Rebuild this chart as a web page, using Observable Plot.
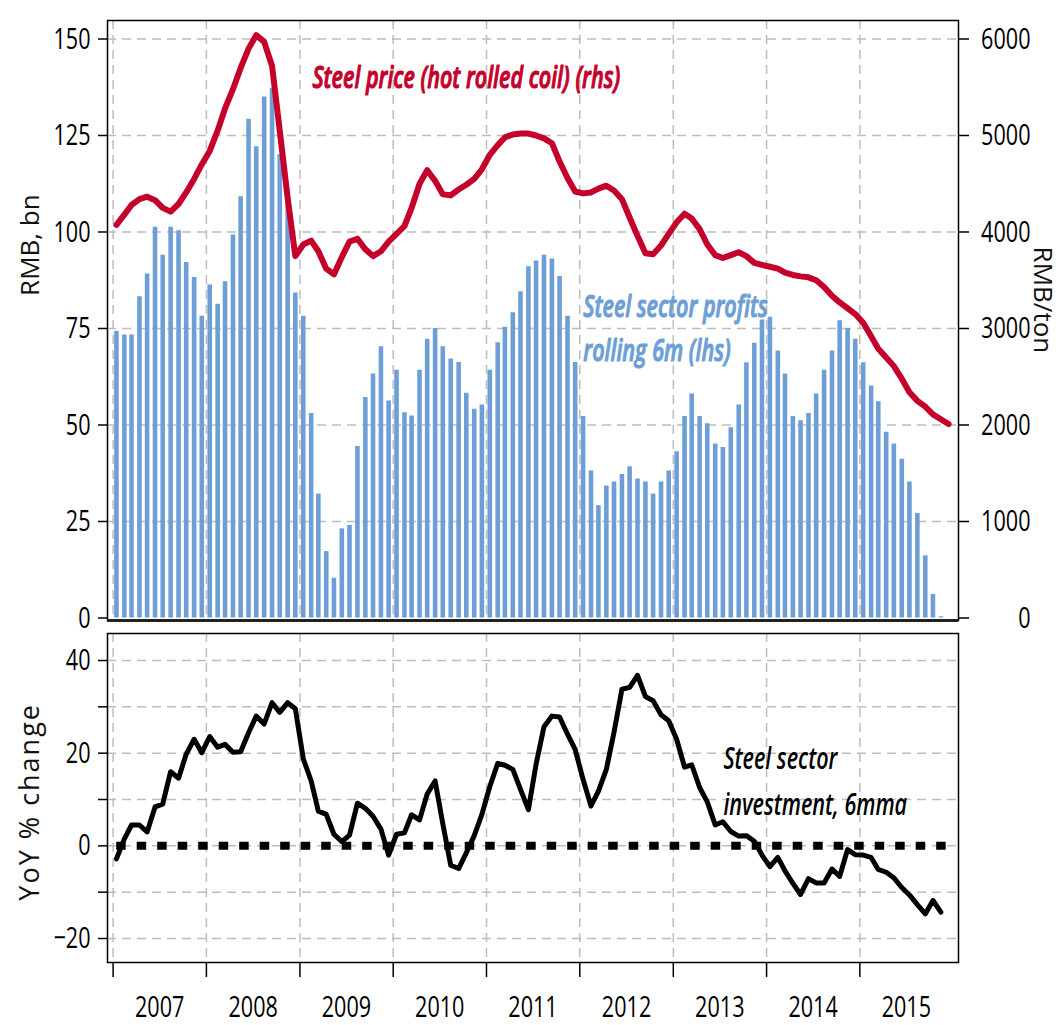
<!DOCTYPE html>
<html>
<head>
<meta charset="utf-8">
<script src="https://cdn.jsdelivr.net/npm/d3@7"></script>
<script src="https://cdn.jsdelivr.net/npm/@observablehq/plot@0.6"></script>
<style>
  html, body { margin: 0; padding: 0; background: #fff; overflow: hidden; }
  #chart svg { display: block; overflow: visible; }
</style>
</head>
<body>
<div id="chart"></div>
<script>
// ---------------- DATA (monthly, starting Jan 2007) ----------------
const years = [2007, 2008, 2009, 2010, 2011, 2012, 2013, 2014, 2015];
const yearLabels = ["2007", "2008", "2009", "2010", "2011", "2012", "2013", "2014", "2015"];

// Steel sector profits, rolling 6m, RMB bn (lhs) — Jan 2007 .. Nov 2015
const profits = [
  74.2, 73.3, 73.3, 83.2, 89.1, 101.2, 94.0, 101.2, 100.3, 92.1, 88.2, 78.2,
  86.3, 81.3, 87.1, 99.2, 109.1, 129.2, 122.1, 135.0, 137.2, 120.0, 110.0, 84.2,
  78.2, 53.0, 32.1, 17.2, 10.3, 23.1, 24.0, 44.4, 57.1, 63.2, 70.3, 56.2,
  64.2, 53.2, 52.3, 64.2, 72.2, 75.0, 70.3, 67.1, 66.2, 58.2, 54.1, 55.2,
  64.2, 71.3, 75.3, 79.1, 84.5, 91.0, 92.5, 94.0, 93.0, 88.5, 78.2, 66.2,
  52.2, 38.1, 29.1, 34.2, 35.2, 37.2, 39.2, 36.0, 35.2, 32.1, 35.2, 38.1,
  43.1, 52.2, 58.0, 52.2, 50.3, 45.1, 44.2, 49.3, 55.2, 66.1, 71.2, 77.2,
  77.9, 69.2, 63.2, 52.2, 51.1, 53.0, 58.0, 64.2, 69.2, 77.0, 75.0, 72.2,
  66.1, 60.1, 56.0, 48.1, 45.1, 41.1, 35.2, 27.1, 16.1, 6.1, 0.3
];

// Steel price, hot rolled coil, RMB/ton (rhs) — Jan 2007 .. Dec 2015
const steelPrice = [
  4073, 4180, 4280, 4340, 4366, 4330, 4250, 4211, 4290, 4410, 4550, 4700,
  4840, 5050, 5280, 5480, 5700, 5900, 6040, 5970, 5720, 5050, 4350, 3750,
  3870, 3910, 3800, 3620, 3560, 3740, 3900, 3930, 3820, 3750, 3800, 3900,
  3980, 4060, 4250, 4500, 4640, 4530, 4390, 4380, 4440, 4490, 4550, 4650,
  4800, 4900, 4980, 5010, 5020, 5020, 5000, 4970, 4920, 4730, 4560, 4420,
  4400, 4410, 4450, 4480, 4430, 4340, 4150, 3960, 3780, 3770, 3860, 3980,
  4100, 4190, 4140, 4030, 3870, 3760, 3730, 3760, 3790, 3750, 3680, 3660,
  3640, 3620, 3580, 3555, 3540, 3530, 3500, 3430, 3340, 3270, 3210, 3150,
  3060, 2920, 2790, 2700, 2610, 2480, 2340, 2250, 2190, 2110, 2060, 2010
];

// Steel sector investment, 6mma, YoY % — Jan 2007 .. Nov 2015
const investment = [
  -2.8, 1.5, 4.5, 4.5, 3.0, 8.4, 9.0, 16.0, 14.6, 19.8, 23.0, 20.1,
  23.6, 21.3, 21.9, 20.2, 20.3, 24.4, 28.0, 26.3, 30.9, 28.8, 30.9, 29.6,
  18.8, 14.0, 7.5, 6.8, 2.5, 0.9, 2.3, 9.2, 8.1, 6.4, 3.6, -2.0,
  2.5, 2.8, 6.7, 5.6, 11.2, 14.0, 4.8, -4.2, -4.9, -1.5, 2.2, 6.8,
  12.8, 17.8, 17.4, 16.5, 12.2, 7.8, 17.6, 25.7, 28.0, 27.8, 24.1, 20.8,
  14.3, 8.6, 11.8, 16.5, 24.5, 33.8, 34.2, 36.8, 32.2, 31.3, 28.3, 27.0,
  23.0, 17.0, 17.5, 12.6, 9.5, 4.5, 5.2, 3.1, 2.1, 2.2, 1.0, -2.0,
  -4.5, -2.5, -5.4, -8.1, -10.5, -7.1, -8.0, -8.0, -5.0, -6.6, -0.8, -1.9,
  -2.0, -2.5, -5.1, -5.7, -6.9, -9.0, -10.6, -12.7, -14.7, -11.8, -14.3
];

// Tick values / labels
const lhsTicks = [0, 25, 50, 75, 100, 125, 150];
const rhsTickLabels = ["0", "1000", "2000", "3000", "4000", "5000", "6000"];
const yoyTicks = [-20, 0, 20, 40];
const yoyMinorTicks = [-10, 10, 30];
const yoyGrid = [-20, -10, 0, 10, 20, 30, 40];

// Text
const priceNote = "Steel price (hot rolled coil) (rhs)";
const profitNote = "Steel sector profits\nrolling 6m (lhs)";
const investNote = "Steel sector\ninvestment, 6mma";
const lhsTitle = "RMB, bn";
const rhsTitle = "RMB/ton";
const yoyTitle = "YoY % change";

// ---------------- BUILD ----------------
const monthDate = i => new Date(Date.UTC(2007, i, 14));
const profitRows = profits.map((v, i) => ({date: monthDate(i), value: v}));
const priceRows = steelPrice.map((v, i) => ({date: monthDate(i), value: v}));
const investRows = investment.map((v, i) => ({date: monthDate(i), value: v}));
const yearStarts = years.map(y => new Date(Date.UTC(y, 0, 1)));
const yearMids = years.map(y => new Date(Date.UTC(y, 6, 2)));
const PRICE_PER_LHS = 40; // 6000 RMB/ton on rhs aligns with 150 bn on lhs

const FONT = "'Open Sans', 'Noto Sans', 'DejaVu Sans', sans-serif";
const BLUE = "#6d9fd6";
const RED = "#c5002b";
const GRID = {stroke: "#bdbdbd", strokeWidth: 1.5, strokeDasharray: "9,6"};
const xDomain = [new Date(Date.UTC(2006, 11, 10)), new Date(Date.UTC(2016, 0, 22))];

const topChart = Plot.plot({
  width: 1061, height: 626,
  marginLeft: 107, marginRight: 103, marginTop: 20, marginBottom: 6,
  style: {fontFamily: FONT, fontSize: "30px", background: "#fff", color: "#000", overflow: "visible"},
  x: {type: "utc", domain: xDomain, axis: null},
  y: {domain: [-0.648, 154.79]},
  marks: [
    Plot.ruleY(lhsTicks.slice(1), GRID),
    Plot.ruleX(yearStarts, GRID),
    Plot.ruleX(profitRows, {x: "date", y1: 0, y2: "value", stroke: BLUE, strokeWidth: 4.6}),
    Plot.line(priceRows, {x: "date", y: d => d.value / PRICE_PER_LHS, stroke: RED, strokeWidth: 6,
      strokeLinejoin: "round", strokeLinecap: "round"}),
    Plot.text([{x: new Date(Date.UTC(2009, 1, 19)), y: 137.2, t: priceNote}],
      {x: "x", y: "y", text: "t", textAnchor: "start", lineAnchor: "bottom", fill: RED,
       stroke: RED, strokeWidth: 1.1,
       fontSize: 30, fontStyle: "italic", fontWeight: 600}),
    Plot.text([{x: new Date(Date.UTC(2012, 0, 15)), y: 66.45, t: profitNote}],
      {x: "x", y: "y", text: "t", textAnchor: "start", lineAnchor: "bottom", lineHeight: 1.5, fill: BLUE,
       stroke: BLUE, strokeWidth: 1.1,
       fontSize: 30, fontStyle: "italic", fontWeight: 600}),
    Plot.frame({stroke: "#000", strokeWidth: 1.5}),
    Plot.ruleY([-0.648], {stroke: "#222", strokeWidth: 3}),
    Plot.axisY(lhsTicks, {anchor: "left", tickSize: 9, tickPadding: 8, label: null, strokeWidth: 1.5, fontSize: 30}),
    Plot.axisY(lhsTicks, {anchor: "right", tickSize: 10, label: null, strokeWidth: 1.5, tickFormat: () => ""}),
    Plot.text(lhsTicks, {frameAnchor: "right", y: d => d, dx: 72, textAnchor: "end",
      text: d => rhsTickLabels[lhsTicks.indexOf(d)], fontSize: 30, fill: "#000"}),
    Plot.text([lhsTitle], {frameAnchor: "left", y: 96.6, dx: -77, rotate: -90, textAnchor: "middle",
      text: d => d, fontSize: 26, fill: "#111"}),
    Plot.text([rhsTitle], {frameAnchor: "right", y: 82.4, dx: 84, rotate: 90, textAnchor: "middle",
      text: d => d, fontSize: 26, fill: "#111"})
  ]
});

const bottomChart = Plot.plot({
  width: 1061, height: 399,
  marginLeft: 107, marginRight: 103, marginTop: 7, marginBottom: 63,
  style: {fontFamily: FONT, fontSize: "30px", background: "none", color: "#000"},
  x: {type: "utc", domain: xDomain},
  y: {domain: [-25.18, 45.83]},
  marks: [
    Plot.ruleY(yoyGrid, GRID),
    Plot.ruleX(yearStarts, GRID),
    Plot.ruleY([{y: 0, x1: new Date(Date.UTC(2007, 0, 15)), x2: new Date(Date.UTC(2015, 11, 10))}],
      {y: "y", x1: "x1", x2: "x2", stroke: "#000", strokeWidth: 8, strokeDasharray: "9.5,11"}),
    Plot.line(investRows, {x: "date", y: "value", stroke: "#000", strokeWidth: 5,
      strokeLinejoin: "round", strokeLinecap: "round"}),
    Plot.text([{x: new Date(Date.UTC(2013, 6, 16)), y: 6.69, t: investNote}],
      {x: "x", y: "y", text: "t", textAnchor: "start", lineAnchor: "bottom", lineHeight: 1.53, fill: "#000",
       fontSize: 30, fontStyle: "italic", fontWeight: 600}),
    Plot.frame({stroke: "#000", strokeWidth: 1.5}),
    Plot.axisY(yoyTicks, {anchor: "left", tickSize: 9, tickPadding: 8, label: null, strokeWidth: 1.5, fontSize: 30}),
    Plot.axisY(yoyMinorTicks, {anchor: "left", tickSize: 9, label: null, strokeWidth: 1.5, tickFormat: () => ""}),
    Plot.axisX(yearStarts, {anchor: "bottom", tickSize: 15, label: null, strokeWidth: 1.5, tickFormat: () => ""}),
    Plot.axisX(yearMids, {anchor: "bottom", tickSize: 0, tickPadding: 33, label: null, fontSize: 30,
      tickFormat: d => yearLabels[years.indexOf(d.getUTCFullYear())]}),
    Plot.text([yoyTitle], {frameAnchor: "left", y: 9.5, dx: -77, rotate: -90, textAnchor: "middle",
      text: d => d, fontSize: 27, fill: "#111"})
  ]
});

const root = document.getElementById("chart");
root.appendChild(topChart);
root.appendChild(bottomChart);

// Condense horizontal text (the reference uses a narrow typeface)
function squeeze(svg, sx) {
  for (const t of svg.querySelectorAll("text")) {
    if (!t.textContent.trim()) continue;
    if (t.textContent === yoyTitle) t.style.letterSpacing = "2px";
    const tr = t.getAttribute("transform") || "";
    if (tr.includes("rotate")) continue;
    const b = t.getBBox();
    const a = getComputedStyle(t).textAnchor;
    const ax = a === "end" ? b.x + b.width : a === "middle" ? b.x + b.width / 2 : b.x;
    t.setAttribute("transform", `${tr} translate(${ax},0) scale(${sx},1) translate(${-ax},0)`);
  }
}
squeeze(topChart, 0.72);
squeeze(bottomChart, 0.72);
</script>
</body>
</html>
